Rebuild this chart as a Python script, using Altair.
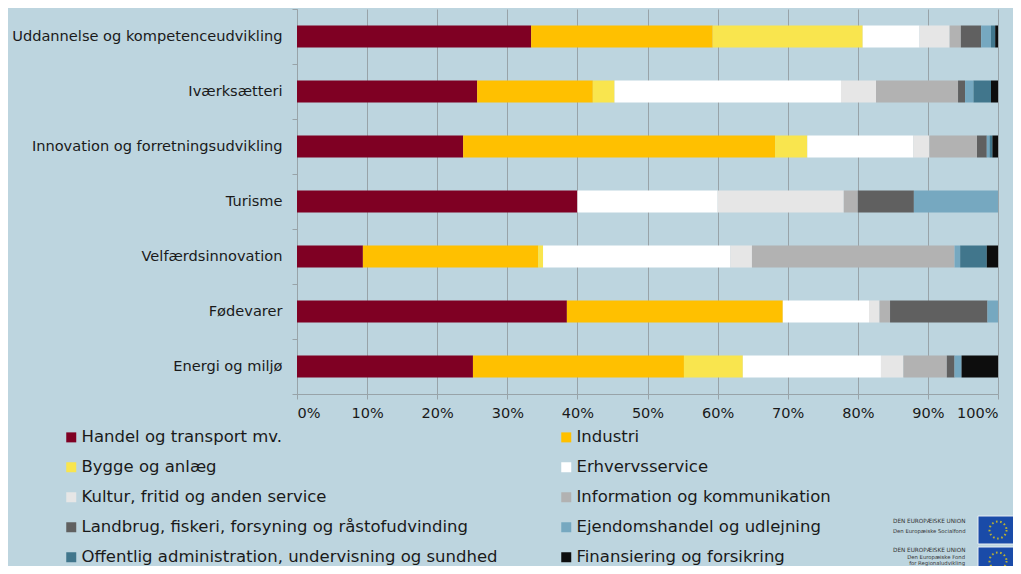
import altair as alt
import pandas as pd

categories = [
    "Uddannelse og kompetenceudvikling",
    "Iværksætteri",
    "Innovation og forretningsudvikling",
    "Turisme",
    "Velfærdsinnovation",
    "Fødevarer",
    "Energi og miljø",
]

sectors = [
    "Handel og transport mv.",
    "Industri",
    "Bygge og anlæg",
    "Erhvervsservice",
    "Kultur, fritid og anden service",
    "Information og kommunikation",
    "Landbrug, fiskeri, forsyning og råstofudvinding",
    "Ejendomshandel og udlejning",
    "Offentlig administration, undervisning og sundhed",
    "Finansiering og forsikring",
]

colors = [
    "#7F0023", "#FFC000", "#F9E54E", "#FFFFFF", "#E6E6E6",
    "#B2B2B2", "#606060", "#76A8C0", "#41768C", "#0D0D0D",
]

# percent shares per sector, in category order
handel    = [33.4, 25.7, 23.7, 40.0,  9.4, 38.5, 25.1]
industri  = [25.9, 16.5, 44.5,  0.0, 25.0, 30.8, 30.1]
bygge     = [21.4,  3.1,  4.6,  0.0,  0.7,  0.0,  8.4]
erhverv   = [ 8.1, 32.3, 15.1, 20.0, 26.7, 12.3, 19.7]
kultur    = [ 4.3,  5.0,  2.3, 18.0,  3.1,  1.5,  3.2]
info      = [ 1.6, 11.7,  6.8,  2.0, 28.9,  1.5,  6.2]
landbrug  = [ 2.9,  1.0,  1.4,  8.0,  0.0, 13.9,  1.1]
ejendom   = [ 1.4,  1.2,  0.4, 12.0,  0.8,  1.5,  1.0]
offentlig = [ 0.6,  2.5,  0.4,  0.0,  3.8,  0.0,  0.0]
finans    = [ 0.4,  1.0,  0.8,  0.0,  1.6,  0.0,  5.2]

series = [handel, industri, bygge, erhverv, kultur, info,
          landbrug, ejendom, offentlig, finans]

x_ticks = [0, 0.1, 0.2, 0.3, 0.4, 0.5, 0.6, 0.7, 0.8, 0.9, 1.0]

eu_line1 = "DEN EUROPÆISKE UNION"
eu_fund1 = ["Den Europæiske Socialfond"]
eu_fund2 = ["Den Europæiske Fond", "for Regionaludvikling"]

rows = []
for si, (s, vals) in enumerate(zip(sectors, series)):
    for c, v in zip(categories, vals):
        if v > 0:
            rows.append({"kategori": c, "sektor": s, "andel": v, "orden": si})
df = pd.DataFrame(rows)

FONT = "DejaVu Sans"
BG = "#BDD5DF"
GRID = "#98A3A8"

bars = alt.Chart(df).mark_bar(size=22).encode(
    y=alt.Y(
        "kategori:N",
        sort=categories,
        scale=alt.Scale(paddingInner=0, paddingOuter=0),
        axis=alt.Axis(
            title=None,
            tickBand="extent",
            tickSize=5,
            labelPadding=10,
            labelFontSize=14.6,
            labelFont=FONT,
            labelColor="#1A1A1A",
            labelLimit=400,
            domainColor=GRID,
            tickColor=GRID,
            grid=False,
        ),
    ),
    x=alt.X(
        "andel:Q",
        stack="normalize",
        scale=alt.Scale(domain=[0, 1]),
        axis=alt.Axis(
            title=None,
            format=".0%",
            values=x_ticks,
            grid=True,
            gridColor=GRID,
            gridOpacity=1,
            tickSize=5,
            labelPadding=7,
            labelFontSize=14.5,
            labelFont=FONT,
            labelColor="#1A1A1A",
            domainColor=GRID,
            tickColor=GRID,
        ),
    ),
    color=alt.Color(
        "sektor:N",
        sort=sectors,
        scale=alt.Scale(domain=sectors, range=colors),
        legend=alt.Legend(
            title=None,
            orient="none",
            direction="horizontal",
            legendX=-234,
            legendY=420,
            columns=2,
            columnPadding=60,
            rowPadding=13,
            padding=0,
            symbolType="square",
            symbolSize=100,
            symbolStrokeWidth=0,
            labelOffset=2,
            labelFontSize=16.5,
            labelFont=FONT,
            labelColor="#1A1A1A",
            labelLimit=600,
        ),
    ),
    order=alt.Order("orden:Q", sort="ascending"),
)

dummy = pd.DataFrame({"n": [0]})

flag1 = alt.Chart(dummy).mark_rect(color="#1A4BA8", stroke="#E8EEF5", strokeWidth=1).encode(
    x=alt.value(681), x2=alt.value(721), y=alt.value(507), y2=alt.value(535)
)
flag2 = alt.Chart(dummy).mark_rect(color="#1A4BA8", stroke="#E8EEF5", strokeWidth=1).encode(
    x=alt.value(681), x2=alt.value(721), y=alt.value(538), y2=alt.value(562)
)
stars1 = alt.Chart(dummy).mark_point(
    shape="circle", filled=False, color="#FFDD00", strokeWidth=2, strokeDash=[1.6, 2.6], size=290
).encode(x=alt.value(701), y=alt.value(521))
stars2 = alt.Chart(dummy).mark_point(
    shape="circle", filled=False, color="#FFDD00", strokeWidth=2, strokeDash=[1.6, 2.6], size=290
).encode(x=alt.value(701), y=alt.value(552))

def logo_text(txt, x, y, align="left", size=5.7):
    return alt.Chart(dummy).mark_text(
        text=txt, align=align, baseline="middle", fontSize=size,
        font=FONT, color="#333333",
    ).encode(x=alt.value(x), y=alt.value(y))

logo = [
    logo_text(eu_line1, 596, 512),
    logo_text(eu_fund1[0], 596, 522, size=5.3),
    logo_text(eu_line1, 596, 541),
    logo_text(eu_fund2[0], 668, 548, align="right", size=5.3),
    logo_text(eu_fund2[1], 668, 554, align="right", size=5.3),
]

chart = alt.layer(bars, flag1, flag2, stars1, stars2, *logo).properties(
    width=701,
    height=385,
    autosize=alt.AutoSizeParams(type="none"),
    padding={"left": 289, "top": 1, "right": 15, "bottom": 172},
    background=BG,
).configure_view(stroke=None)

chart.save("out.html", embed_options={"renderer": "svg", "actions": False})
